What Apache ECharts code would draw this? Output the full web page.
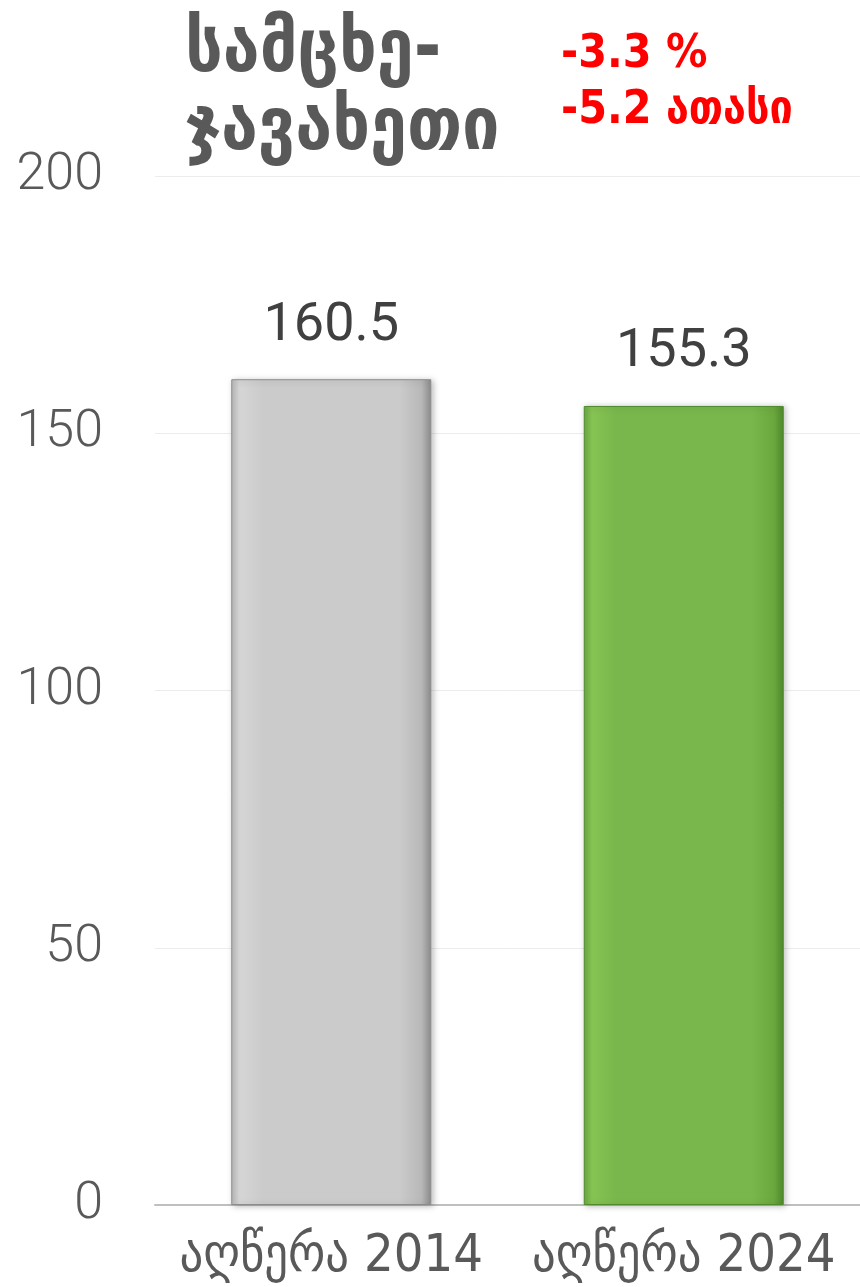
<!DOCTYPE html>
<html>
<head>
<meta charset="utf-8">
<script src="https://cdn.jsdelivr.net/npm/echarts@6/dist/echarts.min.js"></script>
<style>
  html, body { margin: 0; padding: 0; background: #fff; }
  #chart { width: 860px; height: 1287px; }
</style>
</head>
<body>
<div id="chart"></div>
<script>
var categories = ['აღწერა 2014', 'აღწერა 2024'];
var values = [160.5, 155.3];
var yTicks = [0, 50, 100, 150, 200];
var titleLines = ['სამცხე-', 'ჯავახეთი'];
var changeLines = ['-3.3 %', '-5.2 ათასი'];

// bar colours: [edge, light, main, dark edge]
var barColors = [
    ['#b8b8b8', '#d6d6d6', '#cbcbcb', '#8c8c8c'],
    ['#6aa83e', '#86c454', '#79b74c', '#4f8a2c']
];

function barGradient(c) {
    return new echarts.graphic.LinearGradient(0, 0, 1, 0, [
        {offset: 0, color: c[0]},
        {offset: 0.04, color: c[1]},
        {offset: 0.16, color: c[2]},
        {offset: 0.84, color: c[2]},
        {offset: 0.95, color: c[0]},
        {offset: 1, color: c[3]}
    ]);
}

var chart = echarts.init(document.getElementById('chart'));
var option = {
    backgroundColor: '#fff',
    animation: false,
    title: [{
        text: titleLines.join('\n'),
        left: 180,
        top: 8,
        textStyle: {
            fontFamily: 'DejaVu Sans Condensed',
            fontWeight: 'bold',
            fontSize: 74,
            lineHeight: 78,
            color: '#595959'
        }
    }, {
        text: changeLines.join('\n'),
        left: 556,
        top: 22,
        textStyle: {
            fontFamily: 'DejaVu Sans Condensed',
            fontWeight: 'bold',
            fontSize: 46,
            lineHeight: 56,
            color: '#ff0000'
        }
    }],
    grid: {
        left: 155,
        right: -5,
        top: 176,
        bottom: 82
    },
    xAxis: {
        type: 'category',
        data: categories,
        axisTick: {show: false},
        axisLine: {lineStyle: {color: '#bfbfbf', width: 2}},
        axisLabel: {
            interval: 0,
            hideOverlap: false,
            margin: 26,
            fontFamily: 'DejaVu Sans Condensed',
            fontSize: 52,
            color: '#595959'
        }
    },
    yAxis: {
        type: 'value',
        min: yTicks[0],
        max: yTicks[yTicks.length - 1],
        interval: 50,
        axisLine: {show: false},
        axisTick: {show: false},
        splitLine: {lineStyle: {color: '#ececec', width: 1}},
        axisLabel: {
            margin: 52,
            fontFamily: 'Roboto',
            fontWeight: 300,
            fontSize: 52,
            color: '#595959'
        }
    },
    series: [{
        type: 'bar',
        data: values.map(function (v, i) {
            return {
                value: v,
                itemStyle: {
                    color: barGradient(barColors[i]),
                    borderColor: barColors[i][3],
                    borderWidth: 1,
                    shadowColor: 'rgba(0,0,0,0.25)',
                    shadowBlur: 6,
                    shadowOffsetX: 2,
                    shadowOffsetY: 1
                }
            };
        }),
        barWidth: 200,
        label: {
            show: true,
            position: 'top',
            distance: 26,
            fontFamily: 'Roboto',
            fontSize: 54,
            color: '#404040',
            formatter: function (p) { return p.value.toFixed(1); }
        }
    }]
};
chart.setOption(option);
</script>
</body>
</html>
